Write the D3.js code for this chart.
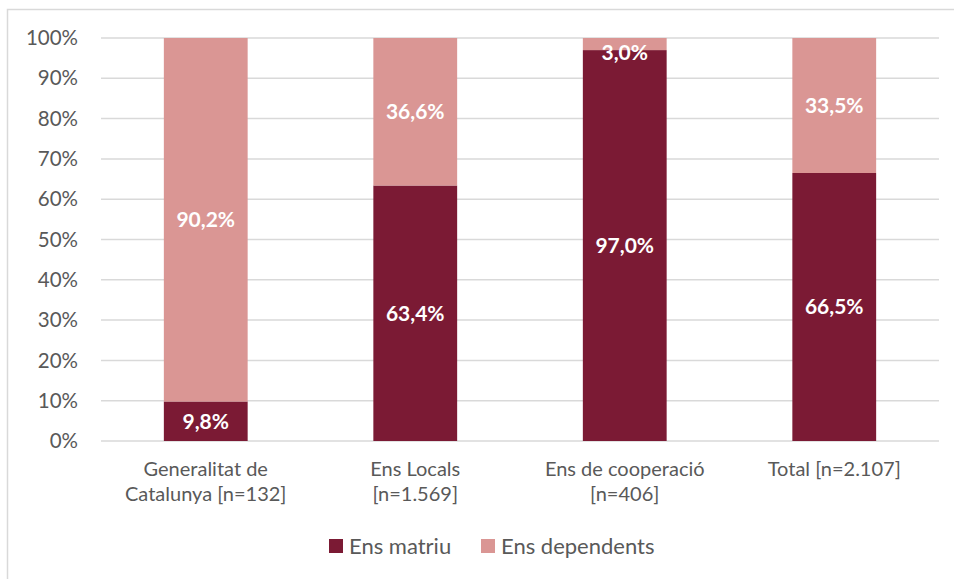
<!DOCTYPE html>
<html><head><meta charset="utf-8">
<script src="https://cdn.jsdelivr.net/npm/d3@7"></script>
<style>body{margin:0;background:#fff}svg{display:block}text{font-family:Lato,"Open Sans",sans-serif}</style>
</head><body><svg id="c" width="954" height="579"></svg>
<script>
const categories = [["Generalitat de","Catalunya [n=132]"],["Ens Locals","[n=1.569]"],["Ens de cooperació","[n=406]"],["Total [n=2.107]"]];
const seriesNames = ["Ens matriu","Ens dependents"];
const matriu = [9.8, 63.4, 97.0, 66.5];
const dependents = [90.2, 36.6, 3.0, 33.5];
const yTicks = [0,10,20,30,40,50,60,70,80,90,100];
const colors = ["#7B1A34","#DA9694"];

const svg = d3.select("#c");
svg.append("rect").attr("x",7.5).attr("y",9.5).attr("width",960).attr("height",600)
  .attr("fill","none").attr("stroke","#D9D9D9").attr("stroke-width",1.5);

const x = d3.scaleBand().domain(d3.range(categories.length)).range([101,939]).paddingInner(0.6).paddingOuter(0.3);
const y = d3.scaleLinear().domain([0,100]).range([441,38]);

svg.append("g").selectAll("line").data(yTicks).join("line")
  .attr("x1",101).attr("x2",939).attr("y1",d=>y(d)).attr("y2",d=>y(d))
  .attr("stroke","#D9D9D9").attr("stroke-width",1.5);

svg.append("g").selectAll("text").data(yTicks).join("text")
  .attr("x",78).attr("y",d=>y(d)).attr("dy","0.35em").attr("text-anchor","end")
  .attr("font-size",20.5).attr("fill","#595959").text(d=>d+"%");

const stacked = categories.map((c,i)=>[
  {s:0,y0:0,y1:matriu[i],v:matriu[i],i},
  {s:1,y0:matriu[i],y1:matriu[i]+dependents[i],v:dependents[i],i}
]).flat();

const fmt = v => v.toFixed(1).replace(".",",")+"%";
svg.append("g").selectAll("rect").data(stacked).join("rect")
  .attr("x",d=>x(d.i)).attr("width",x.bandwidth())
  .attr("y",d=>y(d.y1)).attr("height",d=>y(d.y0)-y(d.y1))
  .attr("fill",d=>colors[d.s]);

svg.append("g").selectAll("text").data(stacked).join("text")
  .attr("x",d=>x(d.i)+x.bandwidth()/2)
  .attr("y",d=>Math.max(y((d.y0+d.y1)/2), y(100)+15))
  .attr("dy","0.35em").attr("text-anchor","middle")
  .attr("font-size",21).attr("font-weight","bold").attr("fill","#fff").text(d=>fmt(d.v));

const cat = svg.append("g").selectAll("text").data(categories).join("text")
  .attr("x",(d,i)=>x(i)+x.bandwidth()/2).attr("y",476)
  .attr("text-anchor","middle").attr("font-size",20).attr("fill","#595959");
cat.selectAll("tspan").data(d=>d).join("tspan")
  .attr("x",function(){return this.parentNode.getAttribute("x");})
  .attr("dy",(d,j)=>j===0?0:25).text(d=>d);

const leg = svg.append("g");
const legX = [329, 481];
seriesNames.forEach((n,i)=>{
  leg.append("rect").attr("x",legX[i]).attr("y",539).attr("width",14).attr("height",14).attr("fill",colors[i]);
  leg.append("text").attr("x",legX[i]+20).attr("y",546).attr("dy","0.35em")
    .attr("font-size",22).attr("fill","#595959").text(n);
});
</script></body></html>
